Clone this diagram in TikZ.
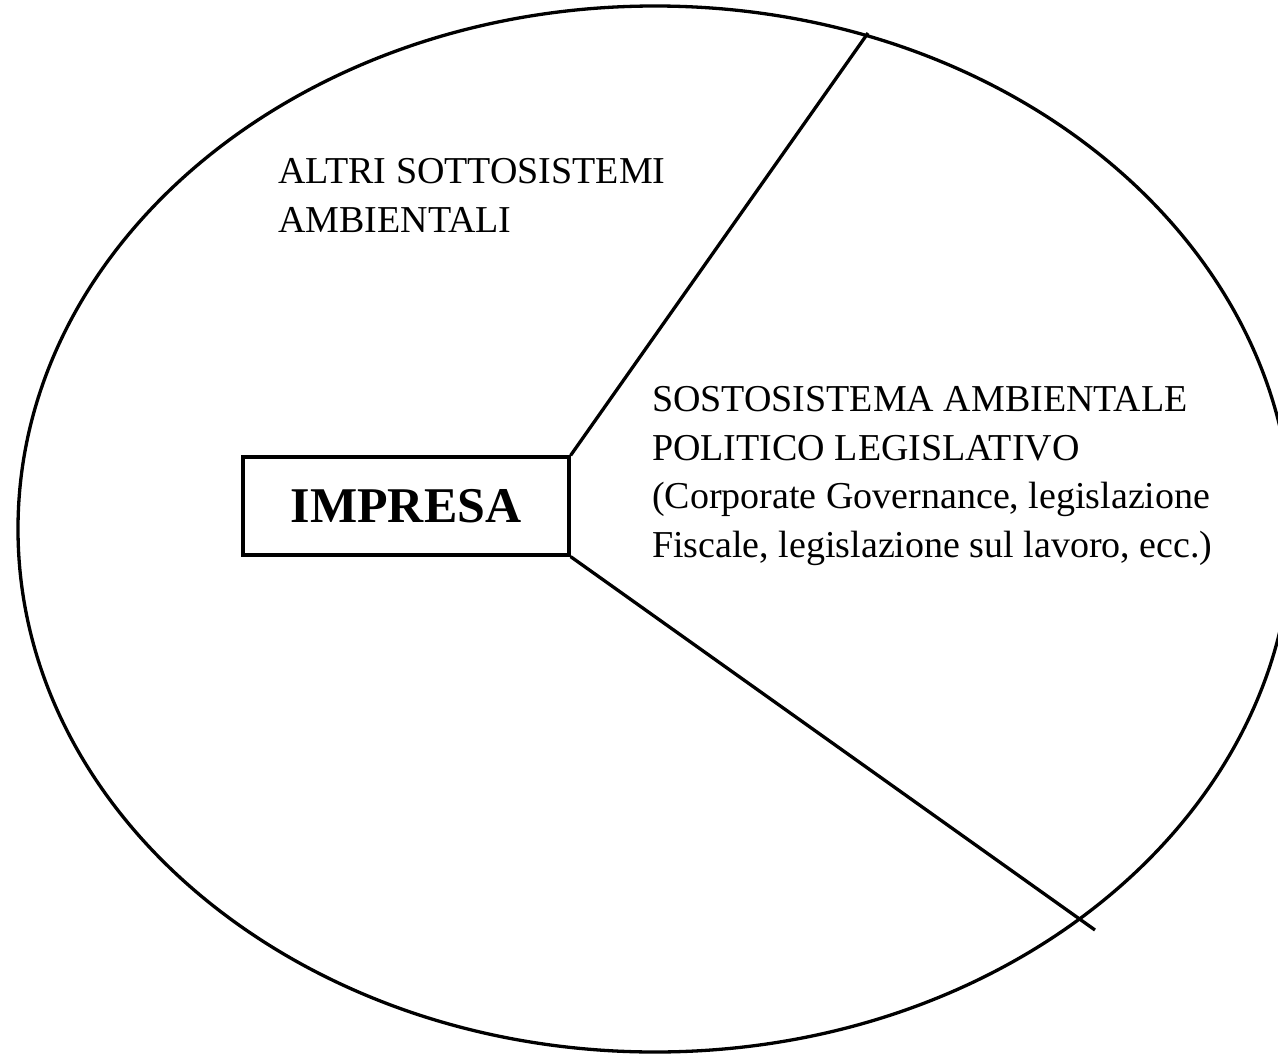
\documentclass[tikz,border=0pt]{standalone}
\usepackage{fontspec}
\setmainfont{Liberation Serif}
\begin{document}
\begin{tikzpicture}[x=1pt,y=-1pt,
  outline/.style={line width=3.3pt,black},
  lbl/.style={anchor=base west,align=left,inner sep=0pt,font=\fontsize{38}{48.5}\selectfont},
  boxst/.style={draw,line width=3.3pt,minimum width=326pt,minimum height=98pt,inner sep=0pt,font=\fontsize{50}{56}\selectfont\bfseries}]
\useasboundingbox (0,0) rectangle (1278,1055);
\clip (0,0) rectangle (1278,1055);
\draw[outline] (655,529) ellipse [x radius=637pt, y radius=523pt];
\node[boxst] (imp) at (406,506) {IMPRESA};
\coordinate (t1) at (868,33);
\coordinate (t2) at (1095,930);
\draw[outline] (imp.north east) -- (t1);
\draw[outline] (imp.south east) -- (t2);
\node[lbl] (altri) at (278,232) {ALTRI SOTTOSISTEMI\\AMBIENTALI};
\node[lbl] (sost) at (652,557) {SOSTOSISTEMA AMBIENTALE\\POLITICO LEGISLATIVO\\(Corporate Governance, legislazione\\Fiscale, legislazione sul lavoro, ecc.)};
\end{tikzpicture}
\end{document}
